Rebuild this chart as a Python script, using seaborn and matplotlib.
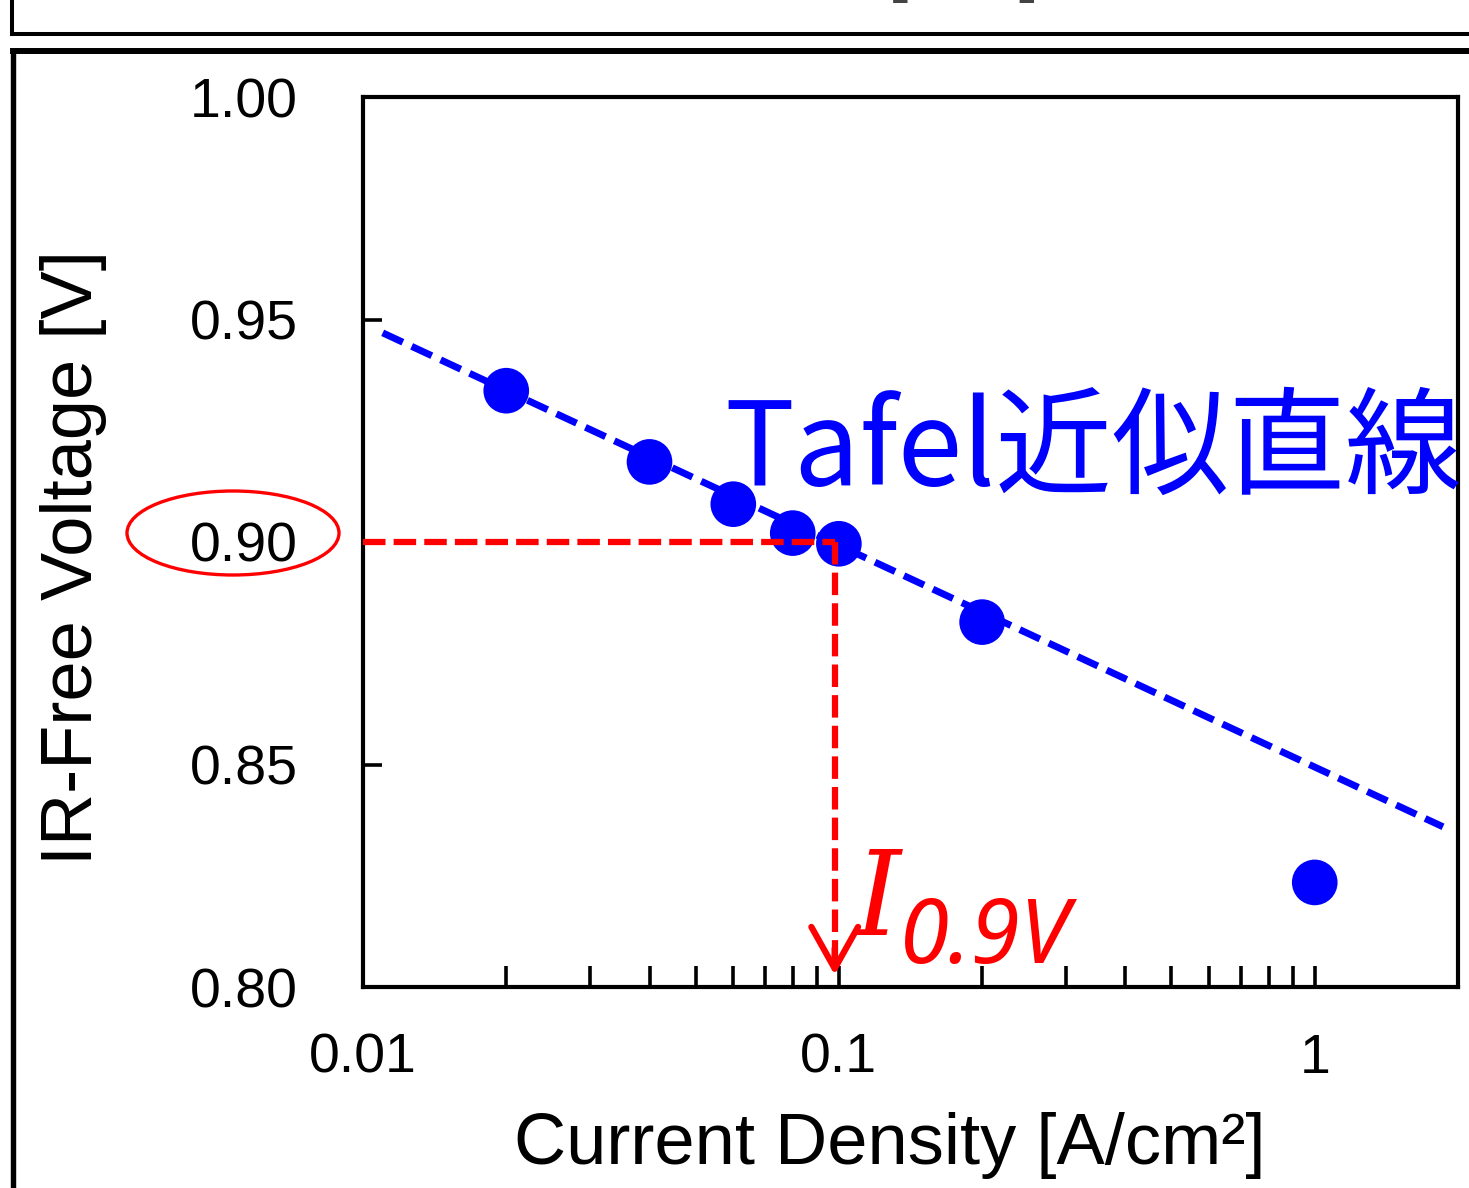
import matplotlib
matplotlib.use("Agg")
import matplotlib.pyplot as plt
import numpy as np
import pandas as pd
import seaborn as sns
from matplotlib.patches import Ellipse
from matplotlib.lines import Line2D
from matplotlib.ticker import FixedLocator, FixedFormatter, LogLocator, NullFormatter

# Measured IR-free voltage against current density
current_density = [0.02, 0.04, 0.06, 0.08, 0.10, 0.20, 1.00]
ir_free_voltage = [0.934, 0.918, 0.9085, 0.902, 0.8996, 0.882, 0.8235]

# Tafel fit line end points
tafel_current = [0.011, 1.86]
tafel_voltage = [0.947, 0.836]

target_voltage = 0.90
i_09v = 0.098
arrow_tip_voltage = 0.8027

y_ticks = [0.80, 0.85, 0.90, 0.95, 1.00]
y_tick_labels = ["0.80", "0.85", "0.90", "0.95", "1.00"]
x_ticks = [0.01, 0.1, 1]
x_tick_labels = ["0.01", "0.1", "1"]

sns.set_theme(style="white", rc={
    "axes.edgecolor": "black",
    "text.color": "black",
    "axes.labelcolor": "black",
    "xtick.color": "black",
    "ytick.color": "black",
})
plt.rcParams["font.family"] = ["Liberation Sans", "DejaVu Sans"]

W, H = 1469, 1188
fig = plt.figure(figsize=(W / 100, H / 100), dpi=100)
fig.patch.set_facecolor("white")
ax = fig.add_axes([363 / W, 1 - 987 / H, (1458 - 363) / W, (987 - 97) / H])

df = pd.DataFrame({"current": current_density, "voltage": ir_free_voltage})
fit = pd.DataFrame({"current": tafel_current, "voltage": tafel_voltage})

sns.lineplot(data=fit, x="current", y="voltage", ax=ax, color="#0000FF",
             lw=5, linestyle=(0, (3.2, 1.4)), estimator=None, sort=False,
             zorder=2)
sns.scatterplot(data=df, x="current", y="voltage", ax=ax, color="#0000FF",
                s=1080, edgecolor="none", linewidth=0, zorder=3)

# Guide lines to the 0.9 V current
red_dash = (0, (3.6, 1.3))
ax.plot([x_ticks[0], i_09v], [target_voltage, target_voltage], color="#FF0000",
        lw=4.5, linestyle=red_dash, zorder=4)
ax.plot([i_09v, i_09v], [target_voltage, arrow_tip_voltage + 0.003],
        color="#FF0000", lw=4.5, linestyle=red_dash, zorder=4)
ax.annotate("", xy=(i_09v, arrow_tip_voltage),
            xytext=(i_09v, arrow_tip_voltage + 0.006),
            arrowprops=dict(arrowstyle="->, head_length=0.75, head_width=0.42",
                            color="#FF0000", lw=4.5, mutation_scale=40,
                            shrinkA=0, shrinkB=0),
            zorder=4)

ax.set_xscale("log")
ax.set_xlim(0.01, 2.0)
ax.set_ylim(0.80, 1.00)
ax.xaxis.set_major_locator(FixedLocator(x_ticks))
ax.xaxis.set_major_formatter(FixedFormatter(x_tick_labels))
ax.xaxis.set_minor_locator(LogLocator(base=10, subs=np.arange(2, 10)))
ax.xaxis.set_minor_formatter(NullFormatter())
ax.yaxis.set_major_locator(FixedLocator(y_ticks))
ax.yaxis.set_major_formatter(FixedFormatter(y_tick_labels))

for s in ax.spines.values():
    s.set_linewidth(3.0)
    s.set_color("black")
    s.set_visible(True)

ax.tick_params(axis="both", which="both", direction="in", top=False,
               right=False, bottom=True, left=True, width=2.6, labelsize=40)
ax.tick_params(axis="y", which="major", length=14, pad=47)
ax.tick_params(axis="x", which="major", length=15, pad=33)
ax.tick_params(axis="x", which="minor", length=15)

ax.set_xlabel("Current Density [A/cm²]", fontsize=52)
ax.set_ylabel("IR-Free Voltage [V]", fontsize=52)
ax.xaxis.set_label_coords(0.481, -0.141)
ax.yaxis.set_label_coords(-0.234, 0.483)

# Annotations
ax.text(0.0576, 0.9128, "Tafel近似直線", fontsize=84, color="#0000FF",
        family=["Noto Sans CJK JP", "DejaVu Sans"], ha="left", va="baseline",
        zorder=5)
ax.text(0.108, 0.8117, "I", fontsize=84, color="#FF0000",
        family="DejaVu Serif", style="italic", ha="left", va="baseline",
        zorder=5)
ax.text(0.1343, 0.8054, "0.9V", fontsize=64, color="#FF0000",
        family="Noto Sans", style="italic", ha="left", va="baseline",
        zorder=5)

fig.add_artist(Ellipse((233 / W, 1 - 533 / H), 212 / W, 84 / H,
                       transform=fig.transFigure, fill=False,
                       edgecolor="#FF0000", lw=2.4))

# Panel frames
def frame_line(x0, y0, x1, y1, lw):
    fig.add_artist(Line2D([x0 / W, x1 / W], [1 - y0 / H, 1 - y1 / H],
                          transform=fig.transFigure, color="black", lw=lw,
                          solid_capstyle="projecting"))

frame_line(12, -5, 12, 33.5, 2.9)
frame_line(12, 33.5, W + 5, 33.5, 2.9)
frame_line(13.5, 51, 13.5, H + 5, 3.9)
frame_line(13.5, 51, W + 5, 51, 4.3)

# Bracket tails of the panel above
fig.text(888 / W, 1 + 12 / H, "[", fontsize=52, color="#444444",
         ha="left", va="baseline")
fig.text(1018 / W, 1 + 12 / H, "]", fontsize=52, color="#444444",
         ha="left", va="baseline")

fig.savefig("out.png", dpi=100, facecolor="white")
